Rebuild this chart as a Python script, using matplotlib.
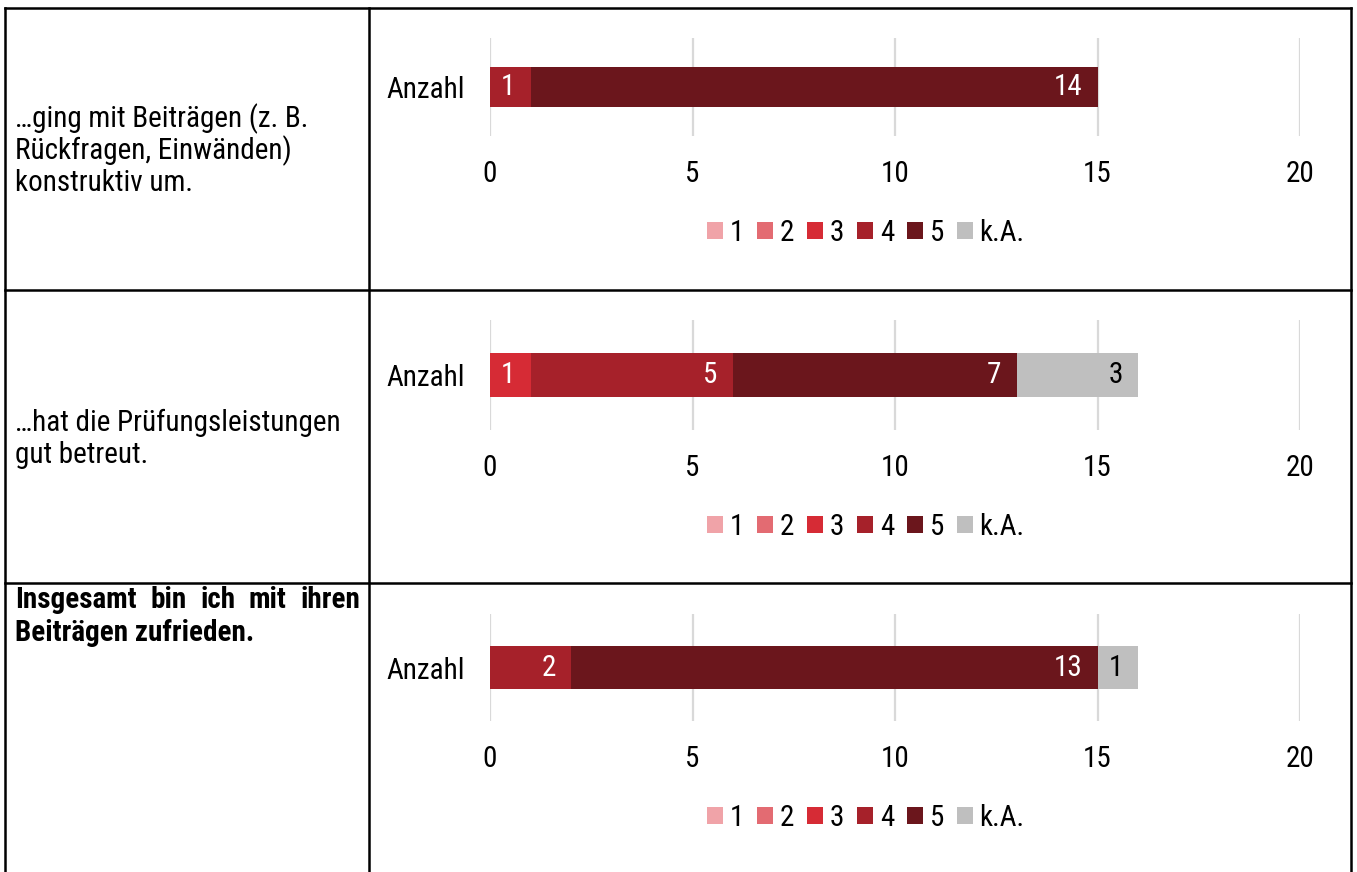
import matplotlib
matplotlib.use("Agg")
import matplotlib.pyplot as plt
from matplotlib import font_manager as fm
from matplotlib.lines import Line2D
from matplotlib.patches import Patch

# Schmale Schrift suchen (Narrow / Condensed), sonst DejaVu Sans
BEVORZUGT = ["liberation sans narrow", "roboto condensed", "open sans condensed",
             "dejavu sans condensed", "noto sans condensed", "dejavu sans",
             "noto sans", "open sans", "roboto"]


def gewicht(w):
    if isinstance(w, int):
        return w
    return {"bold": 700, "normal": 400, "regular": 400}.get(str(w).lower(), 400)


def schmale_schrift(fett):
    beste = None
    for f in fm.fontManager.ttflist:
        name = f.name.lower()
        schmal = ("narrow" in name or "condensed" in name
                  or "condensed" in str(f.stretch))
        if not schmal or f.style != "normal":
            continue
        if ("semi" in name or "semi" in str(f.stretch)) and "narrow" not in name:
            rang_extra = 1
        else:
            rang_extra = 0
        rang = next((k for k, b in enumerate(BEVORZUGT) if name.startswith(b)), 99)
        w = gewicht(f.weight)
        diff = abs(w - (700 if fett else 400))
        schluessel = (rang, rang_extra, diff)
        if beste is None or schluessel < beste[0]:
            beste = (schluessel, f.fname)
    return beste[1] if beste else None


FS = 21
pfad_n = schmale_schrift(False)
pfad_b = schmale_schrift(True)
if pfad_n:
    fp = fm.FontProperties(fname=pfad_n, size=FS)
    fp_b = fm.FontProperties(fname=pfad_b or pfad_n, size=FS,
                             weight="bold")
else:
    fp = fm.FontProperties(family="DejaVu Sans", size=FS - 4)
    fp_b = fm.FontProperties(family="DejaVu Sans", size=FS - 4, weight="bold")

# Daten
kategorien = ["1", "2", "3", "4", "5", "k.A."]
farben = ["#f0a3a8", "#e36b72", "#d62b35", "#a6212a", "#6b161c", "#bfbfbf"]

fragen = [
    ["…ging mit Beiträgen (z. B.", "Rückfragen, Einwänden)", "konstruktiv um."],
    ["…hat die Prüfungsleistungen", "gut betreut."],
    ["Insgesamt bin ich mit ihren", "Beiträgen zufrieden."],
]
werte = [
    [0, 0, 0, 1, 14, 0],
    [0, 0, 1, 5, 7, 3],
    [0, 0, 0, 2, 13, 1],
]
x_ticks = [0, 5, 10, 15, 20]

W, H = 1357, 872
fig = plt.figure(figsize=(W / 100, H / 100), dpi=100)


def fx(x):
    return x / W


def fy(y):
    return 1 - y / H


# Tabellenrahmen
linien = [
    ((5, 5), (8, 872)),
    ((369, 369), (8, 872)),
    ((1351, 1351), (8, 872)),
    ((5, 1351), (8, 8)),
    ((5, 1351), (290, 290)),
    ((5, 1351), (583, 583)),
]
for xs, ys in linien:
    fig.add_artist(Line2D([fx(x) for x in xs], [fy(y) for y in ys],
                          transform=fig.transFigure, color="black", lw=1.8))

# Diagrammbereiche (Pixel: oben, unten der Gitterlinien)
bereiche = [(38, 136), (320, 430), (614, 721)]
text_baselines = [[127, 159, 191], [431, 463], [608, 641]]

for i, (oben, unten) in enumerate(bereiche):
    ax = fig.add_axes([fx(490), fy(unten), fx(1300) - fx(490), (unten - oben) / H])
    links = 0
    for kat, wert, farbe in zip(kategorien, werte[i], farben):
        if wert == 0:
            continue
        ax.barh(0, wert, left=links, height=0.4, color=farbe, zorder=3)
        ax.annotate(str(wert), xy=(links + wert, 0), xytext=(-11, 0),
                    textcoords="offset points", ha="right", va="center",
                    fontproperties=fp, color="black" if kat == "k.A." else "white",
                    zorder=4)
        links += wert
    ax.set_xlim(0, 20)
    ax.set_ylim(-0.5, 0.5)
    ax.set_xticks(x_ticks)
    ax.set_xticklabels([str(t) for t in x_ticks], fontproperties=fp)
    ax.set_yticks([0])
    ax.set_yticklabels(["Anzahl"], fontproperties=fp)
    ax.tick_params(axis="x", length=0, pad=17)
    ax.tick_params(axis="y", length=0, pad=18)
    ax.grid(axis="x", color="#d9d9d9", lw=1.6, zorder=0)
    ax.set_axisbelow(True)
    for s in ax.spines.values():
        s.set_visible(False)
    ax.patch.set_alpha(0)

    handles = [Patch(facecolor=c, edgecolor="none") for c in farben]
    fig.legend(handles, kategorien, loc="center", ncol=6, frameon=False,
               bbox_to_anchor=(fx(866), fy(unten + 97)), bbox_transform=fig.transFigure,
               prop=fp, handlelength=0.55, handleheight=0.55,
               handletextpad=0.22, columnspacing=0.45)

    # Fragetext links
    if i < 2:
        for zeile, yb in zip(fragen[i], text_baselines[i]):
            fig.text(fx(15), fy(yb), zeile, fontproperties=fp, ha="left", va="baseline")

# Letzte Frage: fett, erste Zeile im Blocksatz
renderer = fig.canvas.get_renderer()
woerter = fragen[2][0].split()
objs = [fig.text(0, fy(text_baselines[2][0]), w, fontproperties=fp_b,
                 va="baseline") for w in woerter]
breiten = [t.get_window_extent(renderer).width for t in objs]
luecke = max((360 - 15 - sum(breiten)) / (len(woerter) - 1), 6)
x = 15
for t, b in zip(objs, breiten):
    t.set_x(fx(x))
    x += b + luecke
fig.text(fx(15), fy(text_baselines[2][1]), fragen[2][1], fontproperties=fp_b,
         ha="left", va="baseline")

fig.savefig("out.png", dpi=100)
